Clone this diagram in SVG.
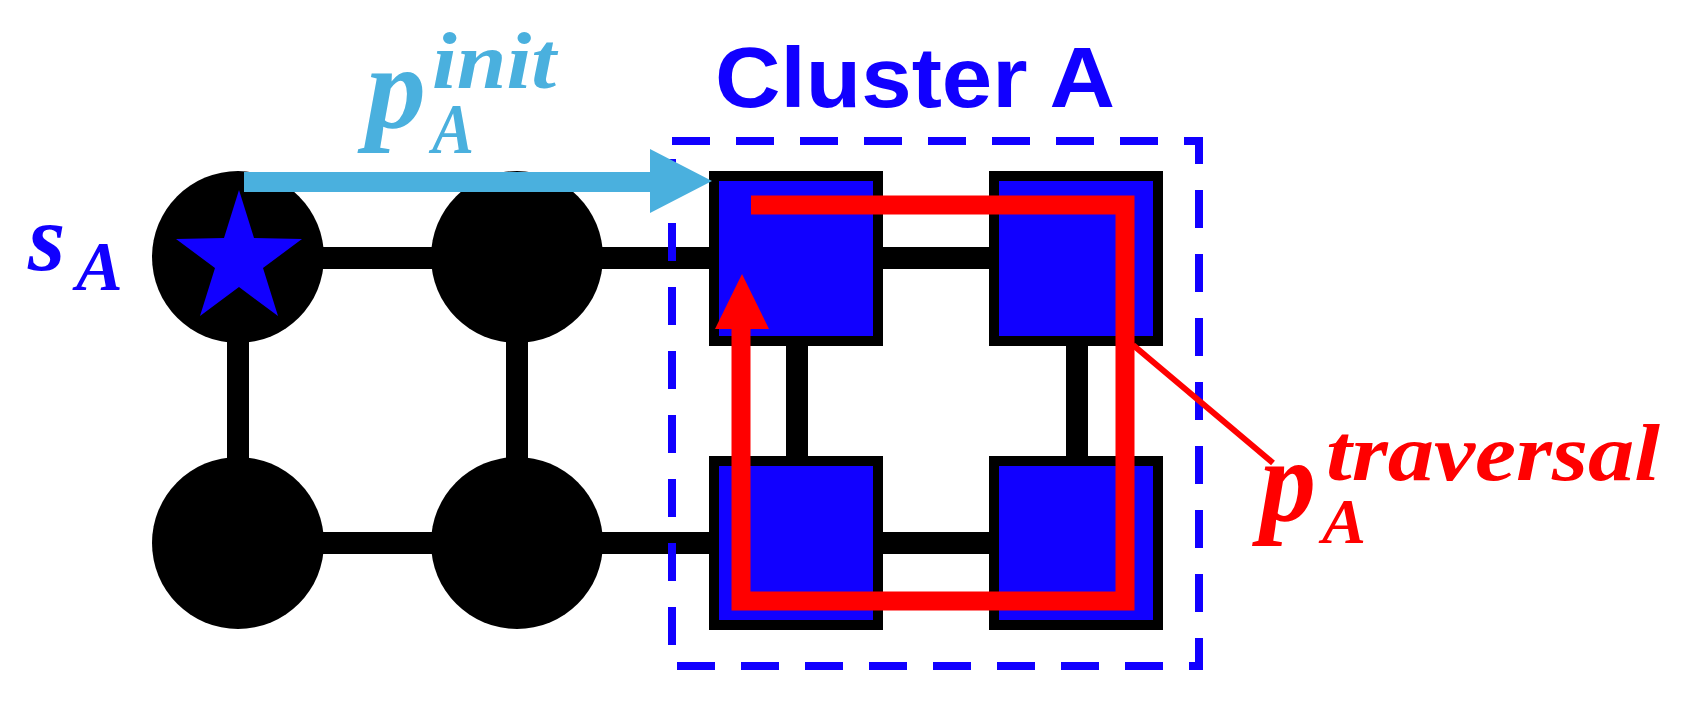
<svg xmlns="http://www.w3.org/2000/svg" width="1682" height="705" viewBox="0 0 1682 705">
<style>
.e{stroke:#000;stroke-width:22;fill:none}
.sq{fill:#1100FF;stroke:#000;stroke-width:10}
.m{font-family:"Liberation Serif",serif;font-style:italic;font-weight:bold}
</style>
<rect width="1682" height="705" fill="#fff"/>
<g id="connectors">
<line class="e" x1="238" y1="258" x2="796" y2="258"/>
<line class="e" x1="238" y1="543" x2="796" y2="543"/>
<line class="e" x1="238" y1="258" x2="238" y2="543"/>
<line class="e" x1="517" y1="258" x2="517" y2="543"/>
<line class="e" x1="796" y1="258" x2="1076" y2="258"/>
<line class="e" x1="796" y1="543" x2="1076" y2="543"/>
<line class="e" x1="797" y1="258" x2="797" y2="543"/>
<line class="e" x1="1077" y1="258" x2="1077" y2="543"/>
</g>
<g id="n1"><circle cx="238" cy="257" r="86"/><polygon fill="#1100FF" points="239,190 254,238 302,239 263,268 278,316 239,287 200,316 215,268 176,239 224,238"/></g>
<g id="n2"><circle cx="517" cy="257" r="86"/></g>
<g id="n3"><circle cx="238" cy="543" r="86"/></g>
<g id="n4"><circle cx="517" cy="543" r="86"/></g>
<g id="c1"><rect class="sq" x="714" y="176" width="164" height="165"/></g>
<g id="c2"><rect class="sq" x="994" y="176" width="164" height="165"/></g>
<g id="c3"><rect class="sq" x="714" y="461" width="164" height="164"/></g>
<g id="c4"><rect class="sq" x="994" y="461" width="164" height="164"/></g>
<g id="cluster">
<rect x="672" y="141" width="527" height="525" fill="none" stroke="#1100FF" stroke-width="8" stroke-dasharray="38,26"/>
<text x="915" y="107" text-anchor="middle" font-family="Liberation Sans,Arial,sans-serif" font-weight="bold" font-size="86" textLength="400" lengthAdjust="spacingAndGlyphs" fill="#1100FF">Cluster A</text>
</g>
<g id="init">
<line x1="244" y1="182" x2="655" y2="182" stroke="#4AB0DE" stroke-width="20"/>
<polygon points="650,149 712,181 650,213" fill="#4AB0DE"/>
<text class="m" fill="#4AB0DE"><tspan x="366" y="128" font-size="118" textLength="60" lengthAdjust="spacingAndGlyphs">p</tspan><tspan x="432" y="153" font-size="72" textLength="42" lengthAdjust="spacingAndGlyphs">A</tspan><tspan x="432" y="88" font-size="80" textLength="124" lengthAdjust="spacingAndGlyphs">init</tspan></text>
</g>
<g id="traversal">
<polyline points="751,205 1125,205 1125,601 741,601 741,320" fill="none" stroke="#FF0000" stroke-width="19"/>
<polygon points="742,274 769,329 715,329" fill="#FF0000"/>
<line x1="1133" y1="345" x2="1273" y2="463" stroke="#FF0000" stroke-width="6"/>
<text class="m" fill="#FF0000"><tspan x="1260" y="521" font-size="118" textLength="56" lengthAdjust="spacingAndGlyphs">p</tspan><tspan x="1322" y="543" font-size="64" textLength="44" lengthAdjust="spacingAndGlyphs">A</tspan><tspan x="1326" y="480" font-size="80" textLength="334" lengthAdjust="spacingAndGlyphs">traversal</tspan></text>
</g>
<g id="sA"><text class="m" fill="#1100FF"><tspan x="28" y="270" font-size="96">s</tspan><tspan x="76" y="290" font-size="70">A</tspan></text></g>
</svg>
